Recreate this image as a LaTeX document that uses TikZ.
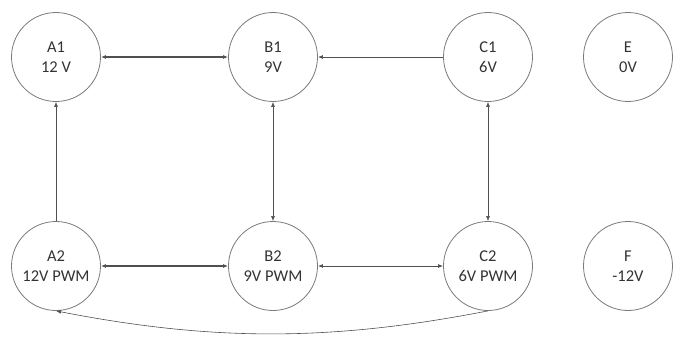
\documentclass[tikz,border=0pt]{standalone}
\usepackage{fontspec}
\setmainfont{Carlito}
\usetikzlibrary{arrows.meta}
\definecolor{circ}{HTML}{7A7A7A}
\definecolor{linec}{HTML}{505050}
\definecolor{txt}{HTML}{333333}
\begin{document}
\begin{tikzpicture}[x=1pt,y=-1pt,
  state/.style={circle,draw=circ,line width=0.8pt,minimum size=89pt,inner sep=0pt,
    align=center,text=txt,font=\fontsize{16.5}{20}\selectfont},
  conn/.style={draw=linec,line width=0.6pt,>={Latex[length=5pt,width=4pt]}},
  thick conn/.style={conn,line width=1.3pt},
  mid conn/.style={conn,line width=0.9pt}]
\useasboundingbox (0,0) rectangle (673,340);
\node[state] (A1) at (56,57) {A1\\12 V};
\node[state] (B1) at (273,57) {B1\\9V};
\node[state] (C1) at (488,57) {C1\\6V};
\node[state] (E)  at (628,57) {E\\0V};
\node[state] (A2) at (56,266) {A2\\12V PWM};
\node[state] (B2) at (273,266) {B2\\9V PWM};
\node[state] (C2) at (488,266) {C2\\6V PWM};
\node[state] (F)  at (628,266) {F\\-12V};
\draw[thick conn,<->] (A1) -- (B1);
\draw[mid conn,->] (C1) -- (B1);
\draw[conn,->] (A2) -- (A1);
\draw[conn,<->] (B1) -- (B2);
\draw[conn,<->] (C1) -- (C2);
\draw[thick conn,<->] (A2) -- (B2);
\draw[mid conn,<->] (B2) -- (C2);
\draw[conn,->] (C2.south) to[out=191,in=-11,looseness=0.95] (A2.south);
\end{tikzpicture}
\end{document}
